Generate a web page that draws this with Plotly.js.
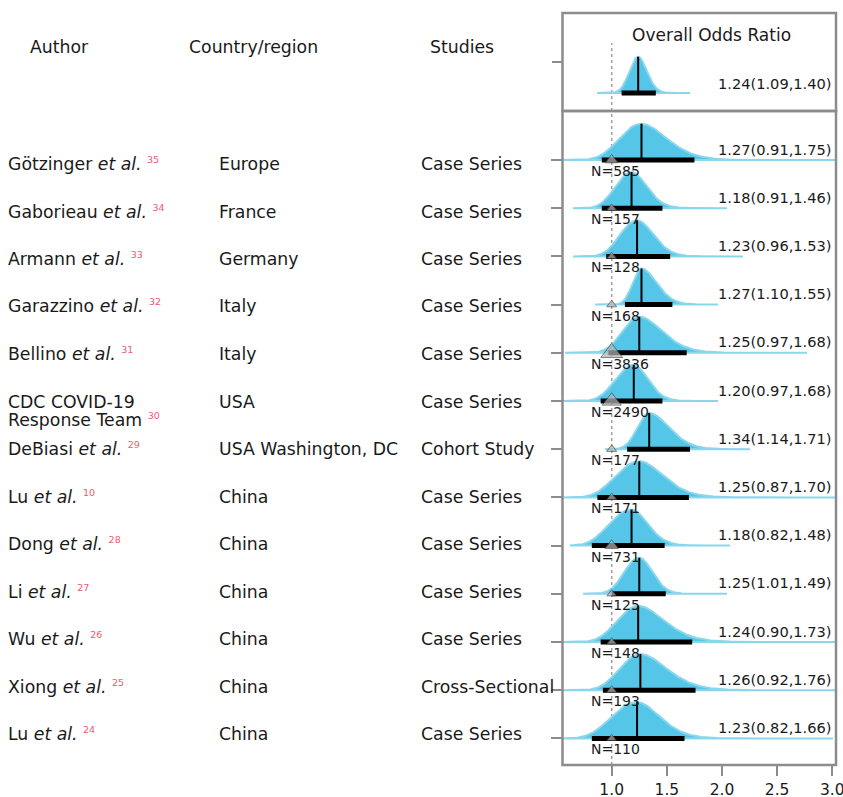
<!DOCTYPE html>
<html><head><meta charset="utf-8">
<script src="https://cdn.plot.ly/plotly-3.0.1.min.js"></script>
<style>html,body{margin:0;padding:0;background:#fff}#chart{width:843px;height:797px}</style>
</head><body><div id="chart"></div>
<script>
// ---- data ----
const authorNames = ['Götzinger','Gaborieau','Armann','Garazzino','Bellino','CDC COVID-19|Response Team','DeBiasi','Lu','Dong','Li','Wu','Xiong','Lu'];
const hasEtAl = [true,true,true,true,true,false,true,true,true,true,true,true,true];
const refNums = ['35','34','33','32','31','30','29','10','28','27','26','25','24'];
const countries = ['Europe','France','Germany','Italy','Italy','USA','USA Washington, DC','China','China','China','China','China','China'];
const studyTypes = ['Case Series','Case Series','Case Series','Case Series','Case Series','Case Series','Cohort Study','Case Series','Case Series','Case Series','Case Series','Cross-Sectional','Case Series'];
const sampleN = [585,157,128,168,3836,2490,177,171,731,125,148,193,110];
const orMid = [1.27,1.18,1.23,1.27,1.25,1.20,1.34,1.25,1.18,1.25,1.24,1.26,1.23];
const ciLo  = [0.91,0.91,0.95,1.12,0.97,0.90,1.14,0.87,0.82,1.00,0.90,0.92,0.82];
const ciHi  = [1.75,1.46,1.53,1.55,1.68,1.46,1.71,1.70,1.48,1.49,1.73,1.76,1.66];
const orLabels = ['1.27(0.91,1.75)','1.18(0.91,1.46)','1.23(0.96,1.53)','1.27(1.10,1.55)','1.25(0.97,1.68)','1.20(0.97,1.68)','1.34(1.14,1.71)','1.25(0.87,1.70)','1.18(0.82,1.48)','1.25(1.01,1.49)','1.24(0.90,1.73)','1.26(0.92,1.76)','1.23(0.82,1.66)'];
const tailLo = [0.55,0.649,0.649,0.849,0.577,0.55,0.939,0.55,0.622,0.740,0.55,0.55,0.55];
const tailHi = [3.05,2.045,2.190,1.964,2.771,1.964,2.254,3.05,2.072,2.045,3.05,3.05,3.006];
const overallMid = 1.24, overallLo = 1.09, overallHi = 1.40;
const overallLabel = '1.24(1.09,1.40)';
const overallTail = [0.867, 1.71];
const xTickVals = [1.0,1.5,2.0,2.5,3.0];
const xTickText = ['1.0','1.5','2.0','2.5','3.0'];
const headers = ['Author','Country/region','Studies'];

// ---- layout constants (pixels) ----
const W = 843, H = 797;
const px = v => v / W, py = v => 1 - v / H;
const FONT = 'DejaVu Sans';
const TXT = '#1a1a1a';
const REDSUP = '#ee5a6f';
const PEAK = 0.75;
const nRows = orMid.length;
const rowVal = i => nRows - i;

function densityTrace(mid, lo, hi, t0, t1, base, yax) {
  const mu = Math.log(mid);
  const sl = (mu - Math.log(lo)) / 1.96, sr = (Math.log(hi) - mu) / 1.96;
  const xs = [], ys = [];
  const n = 400;
  for (let k = 0; k <= n; k++) {
    const x = t0 + (t1 - t0) * k / n;
    const s = x < mid ? sl : sr;
    const z = (Math.log(x) - mu) / s;
    xs.push(x); ys.push(base + PEAK * Math.exp(-0.5 * z * z));
  }
  xs.push(t1, t0); ys.push(base, base);
  return {x: xs, y: ys, yaxis: yax, xaxis: 'x', type: 'scatter', mode: 'lines',
    fill: 'toself', fillcolor: '#55c6e8', line: {color: '#8ad7ed', width: 2},
    hoverinfo: 'skip', showlegend: false};
}

const traces = [];
traces.push(densityTrace(overallMid, overallLo, overallHi, overallTail[0], overallTail[1], 0, 'y'));
for (let i = 0; i < nRows; i++) traces.push(densityTrace(orMid[i], ciLo[i], ciHi[i], tailLo[i], tailHi[i], rowVal(i), 'y2'));
const bx = [], by = [];
for (let i = 0; i < nRows; i++) { bx.push(ciLo[i], ciHi[i], null); by.push(rowVal(i), rowVal(i), null); }
traces.push({x: bx, y: by, yaxis: 'y2', type: 'scatter', mode: 'lines', line: {color: '#000', width: 5}, hoverinfo: 'skip', showlegend: false});
traces.push({x: [overallLo, overallHi], y: [0, 0], yaxis: 'y', type: 'scatter', mode: 'lines', line: {color: '#000', width: 5}, hoverinfo: 'skip', showlegend: false});
const mx = [], my = [];
for (let i = 0; i < nRows; i++) { mx.push(orMid[i], orMid[i], null); my.push(rowVal(i), rowVal(i) + PEAK, null); }
traces.push({x: mx, y: my, yaxis: 'y2', type: 'scatter', mode: 'lines', line: {color: '#000', width: 2}, hoverinfo: 'skip', showlegend: false});
traces.push({x: [overallMid, overallMid], y: [0, PEAK], yaxis: 'y', type: 'scatter', mode: 'lines', line: {color: '#000', width: 2}, hoverinfo: 'skip', showlegend: false});
const maxN = Math.max(...sampleN);
traces.push({x: sampleN.map(() => 1), y: sampleN.map((n, i) => rowVal(i)), yaxis: 'y2', type: 'scatter', mode: 'markers',
  marker: {symbol: 'triangle-up', size: sampleN.map(n => 6 + 13 * Math.sqrt(n / maxN)), color: '#b5b5b5', line: {color: '#4a4a4a', width: 1}},
  hoverinfo: 'skip', showlegend: false});

// ---- annotations ----
const ann = [];
const hdrX = [30, 189, 430];
headers.forEach((h, k) => ann.push({xref: 'paper', yref: 'paper', x: px(hdrX[k] - 2), y: py(47), xanchor: 'left', yanchor: 'middle', text: h, showarrow: false, font: {family: FONT, size: 17.3, color: TXT}}));
ann.push({xref: 'paper', yref: 'paper', x: px(711), y: py(35), xanchor: 'center', yanchor: 'middle', text: 'Overall Odds Ratio', showarrow: false, font: {family: FONT, size: 17, color: TXT}});
const sup = r => ' <sup><span style="font-size:9.5px;color:' + REDSUP + '">' + r + '</span></sup>';
for (let i = 0; i < nRows; i++) {
  const yT = 164 + i * 47.5;
  const nm = authorNames[i];
  if (nm.indexOf('|') >= 0) {
    const parts = nm.split('|');
    ann.push({xref: 'paper', yref: 'paper', x: px(6), y: py(yT), xanchor: 'left', yanchor: 'middle', text: parts[0], showarrow: false, font: {family: FONT, size: 17.3, color: TXT}});
    ann.push({xref: 'paper', yref: 'paper', x: px(6), y: py(yT + 18), xanchor: 'left', yanchor: 'middle', text: parts[1] + sup(refNums[i]), showarrow: false, font: {family: FONT, size: 17.3, color: TXT}});
  } else {
    ann.push({xref: 'paper', yref: 'paper', x: px(6), y: py(yT), xanchor: 'left', yanchor: 'middle', text: nm + (hasEtAl[i] ? ' <i>et al.</i>' : '') + sup(refNums[i]), showarrow: false, font: {family: FONT, size: 17.3, color: TXT}});
  }
  ann.push({xref: 'paper', yref: 'paper', x: px(217), y: py(yT), xanchor: 'left', yanchor: 'middle', text: countries[i], showarrow: false, font: {family: FONT, size: 17.3, color: TXT}});
  ann.push({xref: 'paper', yref: 'paper', x: px(419), y: py(yT), xanchor: 'left', yanchor: 'middle', text: studyTypes[i], showarrow: false, font: {family: FONT, size: 17.3, color: TXT}});
  ann.push({xref: 'paper', yref: 'y2', x: px(834), y: rowVal(i), yshift: 11, xanchor: 'right', yanchor: 'middle', text: orLabels[i], showarrow: false, font: {family: FONT, size: 14.6, color: TXT}});
  ann.push({xref: 'x', yref: 'y2', x: 0.79, y: rowVal(i), yshift: -11, xanchor: 'left', yanchor: 'middle', text: 'N=' + sampleN[i], showarrow: false, font: {family: FONT, size: 14, color: TXT}});
}
ann.push({xref: 'paper', yref: 'y', x: px(834), y: 0, yshift: 9.5, xanchor: 'right', yanchor: 'middle', text: overallLabel, showarrow: false, font: {family: FONT, size: 14.6, color: TXT}});

// ---- layout ----
const boxL = 562.5, boxR = 836, topT = 13, mid = 111, botB = 765;
const base0 = 160, rowH = 48.2, topBase = 93;
const xr0 = 1 + (boxL - 611.7) / 110.3, xr1 = 1 + (boxR - 611.7) / 110.3;
const layout = {
  width: W, height: H, margin: {l: 0, r: 0, t: 0, b: 0},
  paper_bgcolor: '#fff', plot_bgcolor: 'rgba(0,0,0,0)', showlegend: false,
  font: {family: FONT, color: TXT},
  xaxis: {domain: [px(boxL), px(boxR)], range: [xr0, xr1], anchor: 'free', position: py(botB),
    tickvals: xTickVals, ticktext: xTickText, ticks: 'outside', ticklen: 10, tickwidth: 2, tickcolor: '#8c8c8c',
    ticklabeloverflow: 'allow', ticklabelstandoff: 0,
    showline: false, showgrid: false, zeroline: false, tickfont: {family: FONT, size: 15.5, color: TXT}},
  yaxis: {domain: [py(mid), py(topT)], range: [-(mid - topBase) / rowH, (topBase - topT) / rowH], anchor: 'x',
    tickvals: [(topBase - 62) / rowH], ticks: 'outside', ticklen: 10, tickwidth: 2, tickcolor: '#8c8c8c',
    showticklabels: false, showgrid: false, zeroline: false, showline: false},
  yaxis2: {domain: [py(botB), py(mid)], range: [nRows - (botB - base0) / rowH, nRows + (base0 - mid) / rowH], anchor: 'x',
    tickvals: orMid.map((v, i) => rowVal(i)), ticks: 'outside', ticklen: 11, tickwidth: 2, tickcolor: '#8c8c8c',
    showticklabels: false, showgrid: false, zeroline: false, showline: false},
  shapes: [
    {type: 'line', xref: 'x', yref: 'paper', x0: 1, x1: 1, y0: py(botB), y1: py(43), line: {color: '#a0a0a0', width: 1.5, dash: 'dot'}, layer: 'below'},
    {type: 'rect', xref: 'paper', yref: 'paper', x0: px(boxL), x1: px(boxR), y0: py(mid), y1: py(topT), line: {color: '#8c8c8c', width: 2.5}, layer: 'above'},
    {type: 'rect', xref: 'paper', yref: 'paper', x0: px(boxL), x1: px(boxR), y0: py(botB), y1: py(mid), line: {color: '#8c8c8c', width: 2.5}, layer: 'above'}
  ],
  annotations: ann
};
Plotly.newPlot('chart', traces, layout, {staticPlot: true, displayModeBar: false});
</script></body></html>
